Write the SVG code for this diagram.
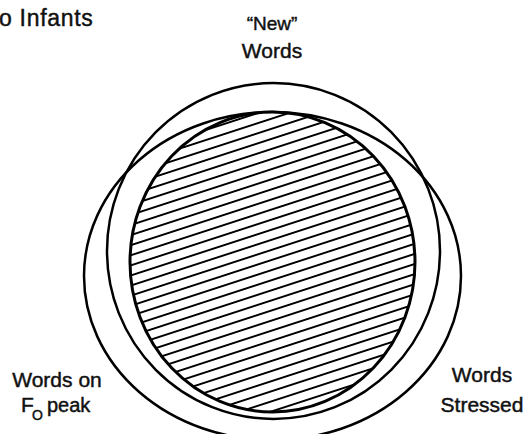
<svg xmlns="http://www.w3.org/2000/svg" width="525" height="434" viewBox="0 0 525 434">
<style>
  .lbl { font-family: "Liberation Sans", Arial, sans-serif; font-size: 21px; fill: #111; stroke: #111; stroke-width: 0.45; }
  .set { fill: none; stroke: #000; stroke-width: 2.5; }
  .core { stroke: #000; stroke-width: 3; }
</style>
<defs>
  <pattern id="hatch" patternUnits="userSpaceOnUse" width="40" height="9.6" patternTransform="rotate(-18)">
    <rect width="40" height="9.6" fill="#fff"/>
    <line x1="0" y1="4.8" x2="40" y2="4.8" stroke="#000" stroke-width="2.1"/>
  </pattern>
</defs>
<rect width="525" height="434" fill="#fff"/>
<text class="lbl" x="-1" y="26" style="font-size:23px" letter-spacing="0.7">o Infants</text>
<g id="set-f0">
  <ellipse class="set" cx="272.5" cy="276" rx="188.5" ry="164"/>
  <text class="lbl" x="57" y="387" text-anchor="middle">Words on</text>
  <text class="lbl" y="412"><tspan x="21">F</tspan><tspan x="32" y="420" font-size="14">O</tspan><tspan x="47" y="412" font-size="20">peak</tspan></text>
</g>
<g id="set-new">
  <ellipse class="set" cx="273.5" cy="251" rx="166.5" ry="168"/>
  <text class="lbl" x="272" y="30" text-anchor="middle" style="font-size:19px">“New”</text>
  <text class="lbl" x="272" y="58" text-anchor="middle">Words</text>
</g>
<g id="set-stressed">
  <text class="lbl" x="482" y="382" text-anchor="middle">Words</text>
  <text class="lbl" x="482" y="412" text-anchor="middle">Stressed</text>
</g>
<g id="intersection">
  <ellipse class="core" cx="272.5" cy="262" rx="142.5" ry="150" fill="url(#hatch)"/>
</g>
<g id="connectors"></g>
</svg>
